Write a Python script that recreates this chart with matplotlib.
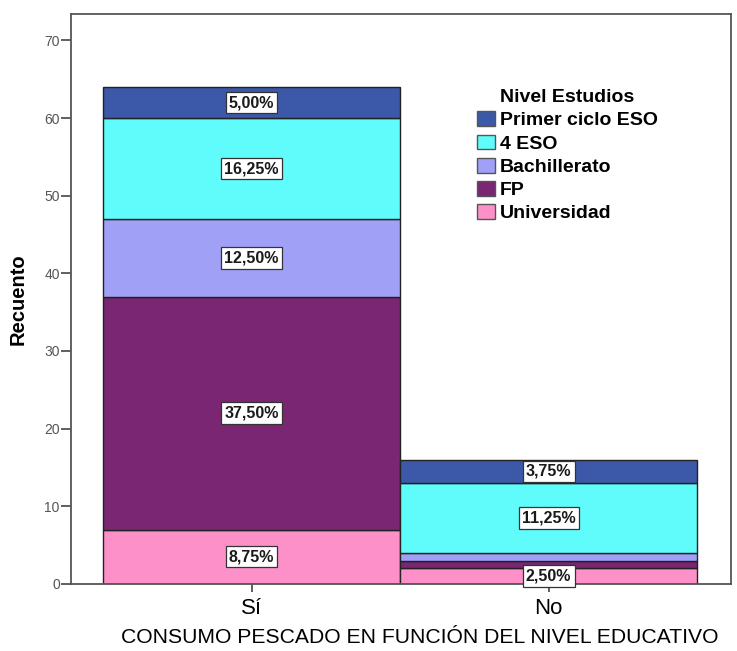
import numpy as np
import matplotlib.pyplot as plt
from matplotlib.patches import Patch

plt.rcParams['font.family'] = ['Liberation Sans', 'DejaVu Sans']

# counts per category (N = 80), stacked from bottom to top
categorias = ['Sí', 'No']
niveles = ['Universidad', 'FP', 'Bachillerato', '4 ESO', 'Primer ciclo ESO']
recuento = {
    'Universidad':      [7, 2],
    'FP':               [30, 1],
    'Bachillerato':     [10, 1],
    '4 ESO':            [13, 9],
    'Primer ciclo ESO': [4, 3],
}
total = 80
colores = {
    'Universidad': '#fd90c9',
    'FP': '#7a2673',
    'Bachillerato': '#a0a0f7',
    '4 ESO': '#60fcfc',
    'Primer ciclo ESO': '#3c58a8',
}
# segments whose percentage is printed
etiquetados = {
    'Sí': ['Universidad', 'FP', 'Bachillerato', '4 ESO', 'Primer ciclo ESO'],
    'No': ['Universidad', '4 ESO', 'Primer ciclo ESO'],
}

fig = plt.figure(figsize=(7.37, 6.51), dpi=100)
ax = fig.add_axes([0.0963, 0.103, 0.8956, 0.8755])

x = np.arange(len(categorias))
base = np.zeros(len(categorias))
for nivel in niveles:
    vals = np.array(recuento[nivel], dtype=float)
    ax.bar(x, vals, width=1.0, bottom=base, color=colores[nivel],
           edgecolor='#222222', linewidth=1.0, zorder=2)
    for i, cat in enumerate(categorias):
        if nivel in etiquetados[cat]:
            pct = vals[i] / total * 100
            txt = ('%.2f%%' % pct).replace('.', ',')
            ax.text(x[i], base[i] + vals[i] / 2, txt, ha='center', va='center',
                    fontsize=11.5, fontweight='bold', color='#1a1a1a', zorder=4,
                    bbox=dict(boxstyle='square,pad=0.2', facecolor='white',
                              edgecolor='#333333', linewidth=0.9))
    base += vals

ax.set_xlim(-0.608, 1.614)
ax.set_ylim(0, 73.4)
ax.set_yticks(np.arange(0, 71, 10))
ax.set_xticks(x)
ax.set_xticklabels(categorias, fontsize=16)
ax.tick_params(axis='y', labelsize=10, labelcolor='#555555', length=7,
               width=1.2, color='#444444', pad=1)
ax.tick_params(axis='x', length=6, width=1.2, color='#444444', pad=4)
for s in ax.spines.values():
    s.set_linewidth(1.3)
    s.set_color('#555555')

ax.set_ylabel('Recuento', fontsize=14.5, fontweight='bold')
ax.yaxis.set_label_coords(-0.066, 0.5)
ax.set_xlabel('CONSUMO PESCADO EN FUNCIÓN DEL NIVEL EDUCATIVO', fontsize=15.2)
ax.xaxis.set_label_coords(0.529, -0.077)

handles = [Patch(facecolor=colores[n], edgecolor='#555555', linewidth=1.0)
           for n in niveles[::-1]]
leg = ax.legend(handles, niveles[::-1], title='Nivel Estudios', loc='upper left',
                bbox_to_anchor=(0.615, 0.868), frameon=False,
                prop={'weight': 'bold', 'size': 14}, handlelength=0.95,
                handleheight=0.8, handletextpad=0.25, labelspacing=0.26,
                borderaxespad=0, borderpad=0)
leg.get_title().set_fontweight('bold')
leg.get_title().set_fontsize(14)

fig.savefig('out.png', dpi=100)
